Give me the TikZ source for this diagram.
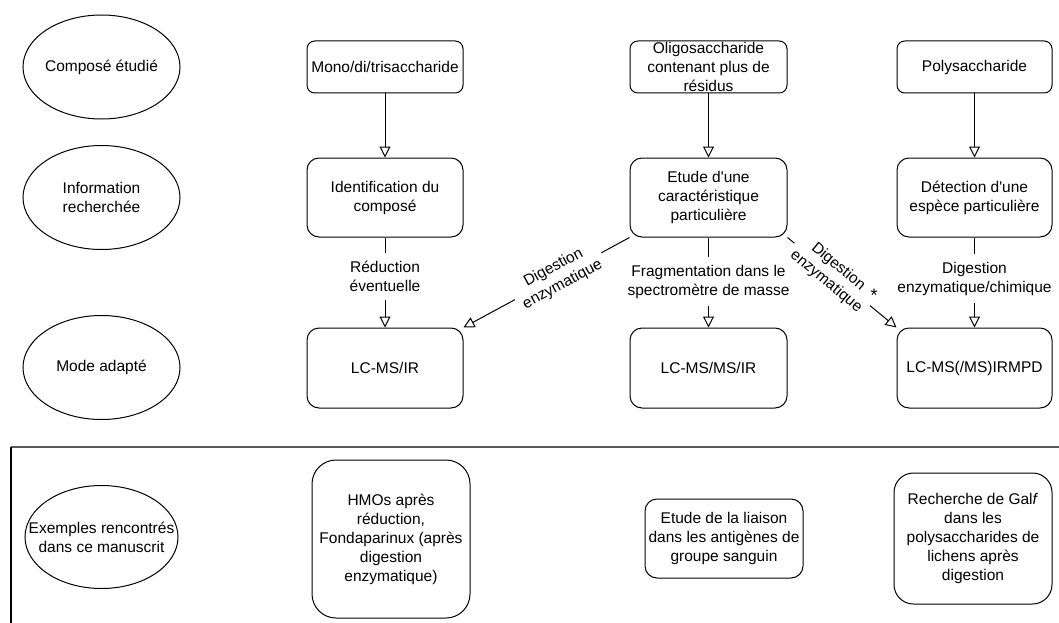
\documentclass[tikz,border=0pt]{standalone}
\usepackage{fontspec}
\setmainfont{Liberation Sans}[Ligatures=TeXOff]
\usetikzlibrary{arrows.meta,shapes.geometric}
\begin{document}
\begin{tikzpicture}[x=1pt,y=-1pt,
  every node/.style={font=\fontsize{15.5}{19}\selectfont, text=black},
  ell/.style={ellipse, draw, line width=1pt, minimum width=157pt, minimum height=104pt, inner sep=0pt},
  txt/.style={align=center, inner sep=0pt},
  rbox/.style={draw, line width=1pt, rounded corners=#1, inner sep=0pt, align=center},
  arr/.style={draw, line width=1pt, -{Triangle[open,length=11pt,width=11pt]}},
  lab/.style={fill=white, align=center, inner xsep=5pt, inner ysep=8pt},
  dlab/.style={fill=white, align=center, inner xsep=5pt, inner ysep=1pt, sloped}
]
\useasboundingbox (0,0) rectangle (1059,623);
\fill[white] (0,0) rectangle (1059,623);

% row headers
\node[ell] (e1) at (101.5,67) {};
\node[txt] (t1) at (e1) {Composé étudié};
\node[ell] (e2) at (101.5,197.5) {};
\node[txt] (t2) at (e2) {Information\\recherchée};
\node[ell] (e3) at (101.5,367.5) {};
\node[txt] (t3) at (e3) {Mode adapté};
\node[ell, minimum width=153pt, minimum height=103pt] (e4) at (101.5,537) {};
\node[txt] (t4) at (e4) {Exemples rencontrés\\dans ce manuscrit};

% column 1
\node[rbox=7.8pt, minimum width=156pt, minimum height=52pt] (mono) at (385,67) {Mono/di/trisaccharide};
\node[rbox=12pt, minimum width=156pt, minimum height=79pt] (ident) at (385,197.5) {Identification du\\composé};
\node[rbox=12pt, minimum width=156pt, minimum height=80pt] (lcir) at (385,368) {LC-MS/IR};

% column 2
\node[rbox=7.8pt, minimum width=157pt, minimum height=52pt] (oligo) at (708.5,67) {};
\node[txt] (oligot) at (708.5,66.5) {Oligosaccharide\\contenant plus de\\résidus};
\node[rbox=12pt, minimum width=157pt, minimum height=79pt] (etude) at (708.5,197.5) {Etude d'une\\caractéristique\\particulière};
\node[rbox=12pt, minimum width=157pt, minimum height=80pt] (lcmsms) at (708.5,368) {LC-MS/MS/IR};

% column 3
\node[rbox=7.8pt, minimum width=155pt, minimum height=52pt] (poly) at (974.5,67) {Polysaccharide};
\node[rbox=12pt, minimum width=155pt, minimum height=79pt] (detect) at (974.5,197.5) {Détection d'une\\espèce particulière};
\node[rbox=12pt, minimum width=155pt, minimum height=80pt] (irmpd) at (974.5,368) {LC-MS(/MS)IRMPD};

% arrows
\draw[arr] (mono.south) -- (ident.north);
\draw[arr] (oligo.south) -- (etude.north);
\draw[arr] (poly.south) -- (detect.north);
\draw[arr] (ident.south) -- node[lab, pos=0.434] (lr) {Réduction\\éventuelle} (lcir.north);
\draw[arr] (etude.south) -- node[lab, pos=0.49] (lf) {Fragmentation dans le\\spectromètre de masse} (lcmsms.north);
\draw[arr] (detect.south) -- node[lab, pos=0.456] (lc) {Digestion\\enzymatique/chimique} (irmpd.north);
\draw[arr] (etude.south west) -- node[dlab, pos=0.43] (ld1) {Digestion\\enzymatique} (lcir.north east);
\draw[arr] (etude.south east) -- node[dlab, pos=0.41] (ld2) {Digestion\\enzymatique} (irmpd.north west);
\node[txt, font=\fontsize{18}{19}\selectfont] (star) at (874,295) {*};

% separator frame
\coordinate (fa) at (11,447);
\coordinate (fb) at (1059,447);
\coordinate (fc) at (11,623);
\draw[line width=2pt, black!65] (fa) -- (fb);
\draw[line width=1.2pt] (fa) -- (fc);

% examples
\node[rbox=24pt, minimum width=158pt, minimum height=158pt] (hmo) at (391,539) {HMOs après\\réduction,\\Fondaparinux (après\\digestion\\enzymatique)};
\node[rbox=12pt, minimum width=158pt, minimum height=79pt] (liaison) at (724,538.5) {Etude de la liaison\\dans les antigènes de\\groupe sanguin};
\node[rbox=19.5pt, minimum width=158pt, minimum height=131pt] (galf) at (973,538.5) {Recherche de Gal\textit{f}\\dans les\\polysaccharides de\\lichens après\\digestion};
\end{tikzpicture}
\end{document}
